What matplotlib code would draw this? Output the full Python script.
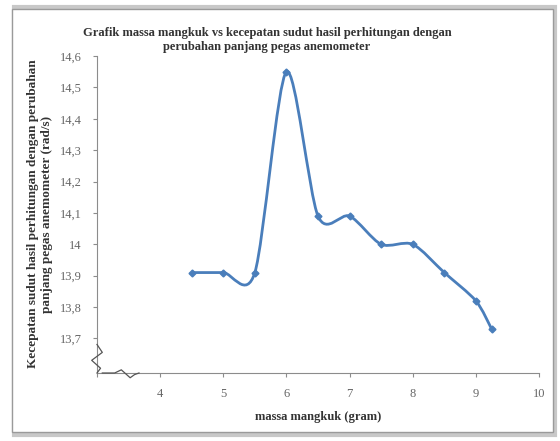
import matplotlib
matplotlib.use('Agg')
import matplotlib.pyplot as plt
from matplotlib.path import Path
from matplotlib.patches import PathPatch, Rectangle
from matplotlib.ticker import FuncFormatter

# data
massa = [4.5, 5, 5.5, 6, 6.5, 7, 7.5, 8, 8.5, 9, 9.25]
kecepatan = [13.91, 13.91, 13.91, 14.55, 14.09, 14.09, 14.00, 14.00, 13.91, 13.82, 13.73]
x_ticks = [3, 4, 5, 6, 7, 8, 9, 10]
y_ticks = [13.7, 13.8, 13.9, 14.0, 14.1, 14.2, 14.3, 14.4, 14.5, 14.6]

plt.rcParams['font.family'] = ['Liberation Serif', 'DejaVu Serif']
line_color = '#4A7EBB'

fig = plt.figure(figsize=(5.6, 4.41), dpi=100)

# chart frame with soft border (behind the axes)
fig.patches.append(Rectangle((14 / 560, 6 / 441), 541 / 560, 428 / 441, transform=fig.transFigure,
                             facecolor='none', edgecolor='#C8C8C8', linewidth=3, zorder=-2))
fig.patches.append(Rectangle((12 / 560, 9 / 441), 541 / 560, 423 / 441, transform=fig.transFigure,
                             facecolor='white', edgecolor='#9A9A9A', linewidth=1.0, zorder=-1))

ax = fig.add_axes([97 / 560, 1 - 373 / 441, (539 - 97) / 560, (373 - 56) / 441])
ax.set_facecolor('none')

# smoothed line (Excel style cardinal spline through the points)
pts = list(zip(massa, kecepatan))
verts = [pts[0]]
codes = [Path.MOVETO]
t = 0.14
for i in range(len(pts) - 1):
    p0 = pts[i - 1] if i > 0 else pts[i]
    p1 = pts[i]
    p2 = pts[i + 1]
    p3 = pts[i + 2] if i + 2 < len(pts) else pts[i + 1]
    c1 = (p1[0] + (p2[0] - p0[0]) * t, p1[1] + (p2[1] - p0[1]) * t)
    c2 = (p2[0] - (p3[0] - p1[0]) * t, p2[1] - (p3[1] - p1[1]) * t)
    verts += [c1, c2, p2]
    codes += [Path.CURVE4] * 3
ax.add_patch(PathPatch(Path(verts, codes), facecolor='none', edgecolor=line_color, linewidth=2))
ax.plot(massa, kecepatan, linestyle='none', marker='D', markersize=3.5, color=line_color)

ax.set_xlim(3, 10)
ax.set_ylim(13.59, 14.6)
ax.set_xticks(x_ticks)
ax.set_yticks(y_ticks)
ax.xaxis.set_major_formatter(FuncFormatter(lambda v, p: '' if v == 3 else f'{v:g}'))
ax.yaxis.set_major_formatter(FuncFormatter(lambda v, p: f'{round(v, 1):g}'.replace('.', ',')))

for s in ['top', 'right']:
    ax.spines[s].set_visible(False)
for s in ['left', 'bottom']:
    ax.spines[s].set_color('#8C8C8C')
    ax.spines[s].set_linewidth(0.8)
ax.tick_params(colors='#8C8C8C', length=3, width=0.8, labelsize=9, labelcolor='#666666', pad=8)

# axis break marks
ax.plot([0, 0.012, -0.012, 0.008, 0], [0.09, 0.065, 0.04, 0.015, 0.0], transform=ax.transAxes,
        color='#555555', linewidth=0.9, clip_on=False, zorder=5)
ax.plot([0.012, 0.04, 0.055, 0.075, 0.085, 0.095], [0, 0, 0.01, -0.015, -0.005, 0],
        transform=ax.transAxes, color='#555555', linewidth=0.9, clip_on=False, zorder=5)

fig.text(267 / 560, 1 - 40 / 441, 'Grafik massa mangkuk vs kecepatan sudut hasil perhitungan dengan\n'
         'perubahan panjang pegas anemometer', ha='center', va='center', fontsize=9,
         fontweight='bold', color='#333333', linespacing=1.3)
ax.set_xlabel('massa mangkuk (gram)', fontsize=9, fontweight='bold', color='#333333', labelpad=8)
fig.text(40 / 560, 1 - 214 / 441, 'Kecepatan sudut hasil perhitungan dengan perubahan\n'
         'panjang pegas anemometer (rad/s)', rotation=90, ha='center', va='center',
         fontsize=9.5, fontweight='bold', color='#333333', linespacing=1.25)

fig.savefig('out.png', dpi=100)
